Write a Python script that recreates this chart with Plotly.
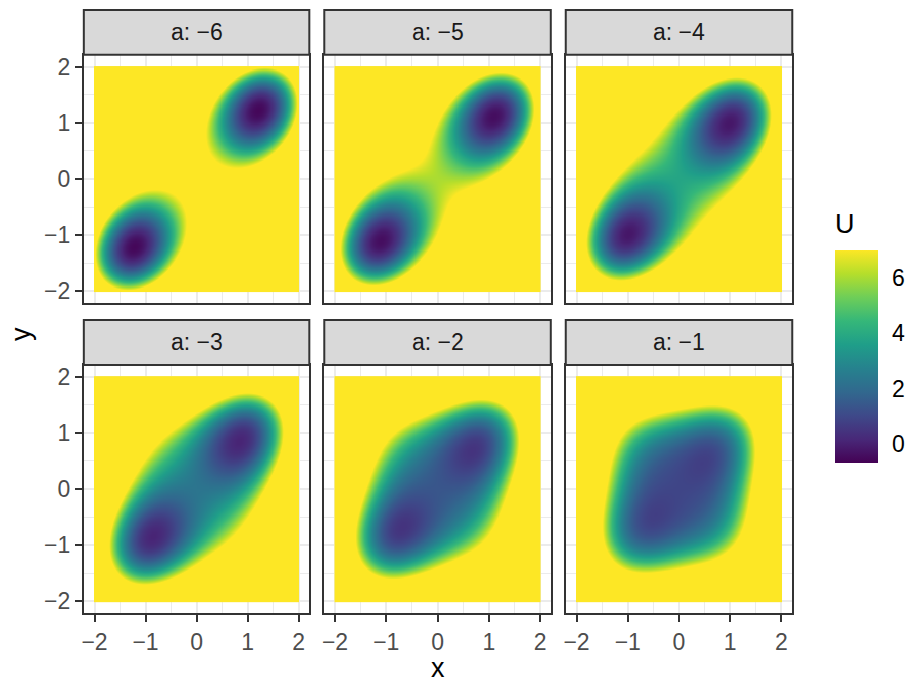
import numpy as np
import plotly.graph_objects as go

# ---- data -------------------------------------------------------------
a_values = [-6, -5, -4, -3, -2, -1]
panel_labels = ["a: \u22126", "a: \u22125", "a: \u22124", "a: \u22123", "a: \u22122", "a: \u22121"]
x_grid = np.linspace(-2, 2, 201)
y_grid = np.linspace(-2, 2, 201)
noise_k = 2.2           # inverse noise strength of the landscape
bandwidth = 0.13        # smoothing of the estimated density
u_cap = 7.0             # landscape values are capped here (top of colour bar)
u_floor = -0.68         # bottom of the colour bar
tick_vals = [-2, -1, 0, 1, 2]
tick_text = ["\u22122", "\u22121", "0", "1", "2"]
cbar_vals = [0, 2, 4, 6]
cbar_text = ["0", "2", "4", "6"]

# ---- landscape U = -log p,  p ~ exp(-k E) (smoothed), E = x^4+y^4+a x y
step = x_grid[1] - x_grid[0]
pad = int(round(4 * bandwidth / step))
xe = np.concatenate([x_grid[0] - step * np.arange(pad, 0, -1), x_grid,
                     x_grid[-1] + step * np.arange(1, pad + 1)])
XE, YE = np.meshgrid(xe, xe)
kern_x = np.arange(-pad, pad + 1) * step
kern = np.exp(-0.5 * (kern_x / bandwidth) ** 2)
kern /= kern.sum()

def smooth(p):
    p = np.apply_along_axis(lambda r: np.convolve(r, kern, mode="same"), 1, p)
    p = np.apply_along_axis(lambda r: np.convolve(r, kern, mode="same"), 0, p)
    return p

U_list = []
for a in a_values:
    kE = noise_k * (XE**4 + YE**4 + a * XE * YE)
    p = np.exp(-(kE - kE.min()))
    p = smooth(p)[pad:-pad, pad:-pad]
    p = p / (p.sum() * step * step)
    U = np.minimum(-np.log(np.maximum(p, 1e-300)), u_cap)
    U_list.append(U)
zmin = min(u_floor, min(u.min() for u in U_list))

# ---- layout geometry (pixels) ----------------------------------------
W, H = 908, 684
col_px = [(82, 308), (323, 550), (565, 792)]
row_px = [(54, 303), (365, 614)]
strip_px = [(9, 54), (320, 365)]

def fx(p):
    return p / W

def fy(p):
    return 1 - p / H

FONT = "Liberation Sans, Arial, Helvetica, sans-serif"
TICK_SIZE = 23
TITLE_SIZE = 27
fig = go.Figure()
shapes = []
annotations = []

for i, (a, U) in enumerate(zip(a_values, U_list)):
    r, c = divmod(i, 3)
    n = "" if i == 0 else str(i + 1)
    fig.add_trace(go.Heatmap(
        x=x_grid, y=y_grid, z=U, coloraxis="coloraxis",
        xaxis="x" + n, yaxis="y" + n, hoverinfo="skip"))
    common = dict(
        range=[-2.21, 2.21], tickvals=tick_vals, ticktext=tick_text,
        showgrid=True, gridcolor="#ebebeb", gridwidth=1.6,
        minor=dict(tickvals=[-1.5, -0.5, 0.5, 1.5], showgrid=True,
                   gridcolor="#ebebeb", gridwidth=0.8),
        zeroline=False, showline=True, mirror=True,
        linecolor="#333333", linewidth=2,
        tickfont=dict(family=FONT, size=TICK_SIZE, color="#4d4d4d"),
        ticklen=7, tickwidth=2, tickcolor="#333333", fixedrange=True)
    xa = dict(common, domain=[fx(col_px[c][0]), fx(col_px[c][1])],
              anchor="y" + n,
              showticklabels=(r == 1), ticks="outside" if r == 1 else "")
    ya = dict(common, domain=[fy(row_px[r][1]), fy(row_px[r][0])],
              anchor="x" + n,
              showticklabels=(c == 0), ticks="outside" if c == 0 else "")
    fig.layout["xaxis" + n] = xa
    fig.layout["yaxis" + n] = ya
    # strip
    shapes.append(dict(type="rect", xref="paper", yref="paper",
                       x0=fx(col_px[c][0]), x1=fx(col_px[c][1]),
                       y0=fy(strip_px[r][1]), y1=fy(strip_px[r][0]),
                       fillcolor="#d9d9d9", line=dict(color="#333333", width=2),
                       layer="above"))
    annotations.append(dict(text=panel_labels[i], xref="paper", yref="paper",
                            x=fx((col_px[c][0] + col_px[c][1]) / 2),
                            y=fy((strip_px[r][0] + strip_px[r][1]) / 2),
                            xanchor="center", yanchor="middle", showarrow=False,
                            font=dict(family=FONT, size=TICK_SIZE, color="#1a1a1a")))

# axis titles
annotations.append(dict(text="x", xref="paper", yref="paper",
                        x=fx(437), y=fy(686), xanchor="center", yanchor="bottom",
                        showarrow=False, font=dict(family=FONT, size=TITLE_SIZE, color="black")))
annotations.append(dict(text="y", xref="paper", yref="paper",
                        x=fx(19), y=fy(334), xanchor="center", yanchor="middle",
                        textangle=-90, showarrow=False,
                        font=dict(family=FONT, size=TITLE_SIZE, color="black")))
# colorbar title
annotations.append(dict(text="U", xref="paper", yref="paper",
                        x=fx(833), y=fy(224), xanchor="left", yanchor="middle",
                        showarrow=False, font=dict(family=FONT, size=TITLE_SIZE, color="black")))

# colorbar
cb_top, cb_bot, cb_left, cb_w = 250, 463, 835, 43
for v in cbar_vals:
    yp = cb_bot - (v - zmin) / (u_cap - zmin) * (cb_bot - cb_top)
    for x0 in (cb_left, cb_left + cb_w - 8):
        shapes.append(dict(type="line", xref="paper", yref="paper",
                           x0=fx(x0), x1=fx(x0 + 8), y0=fy(yp), y1=fy(yp),
                           line=dict(color="white", width=1.2), layer="above"))

fig.update_layout(
    width=W, height=H, margin=dict(l=0, r=0, t=0, b=0),
    paper_bgcolor="white", plot_bgcolor="white",
    shapes=shapes, annotations=annotations, showlegend=False,
    coloraxis=dict(
        colorscale="Viridis", cmin=zmin, cmax=u_cap,
        colorbar=dict(
            x=fx(cb_left), xanchor="left", xpad=0, ypad=0,
            y=fy((cb_top + cb_bot) / 2), yanchor="middle",
            thickness=cb_w, thicknessmode="pixels",
            len=cb_bot - cb_top, lenmode="pixels",
            outlinewidth=0, tickvals=cbar_vals, ticktext=cbar_text,
            ticks="outside", ticklen=10, tickcolor="rgba(0,0,0,0)", tickwidth=1,
            tickfont=dict(family=FONT, size=TICK_SIZE, color="black"),
        ),
    ),
)

fig.write_html("out.html",
               config={"displayModeBar": False},
               post_script="document.body.style.margin='0';"
                           "document.body.style.overflow='hidden';")
